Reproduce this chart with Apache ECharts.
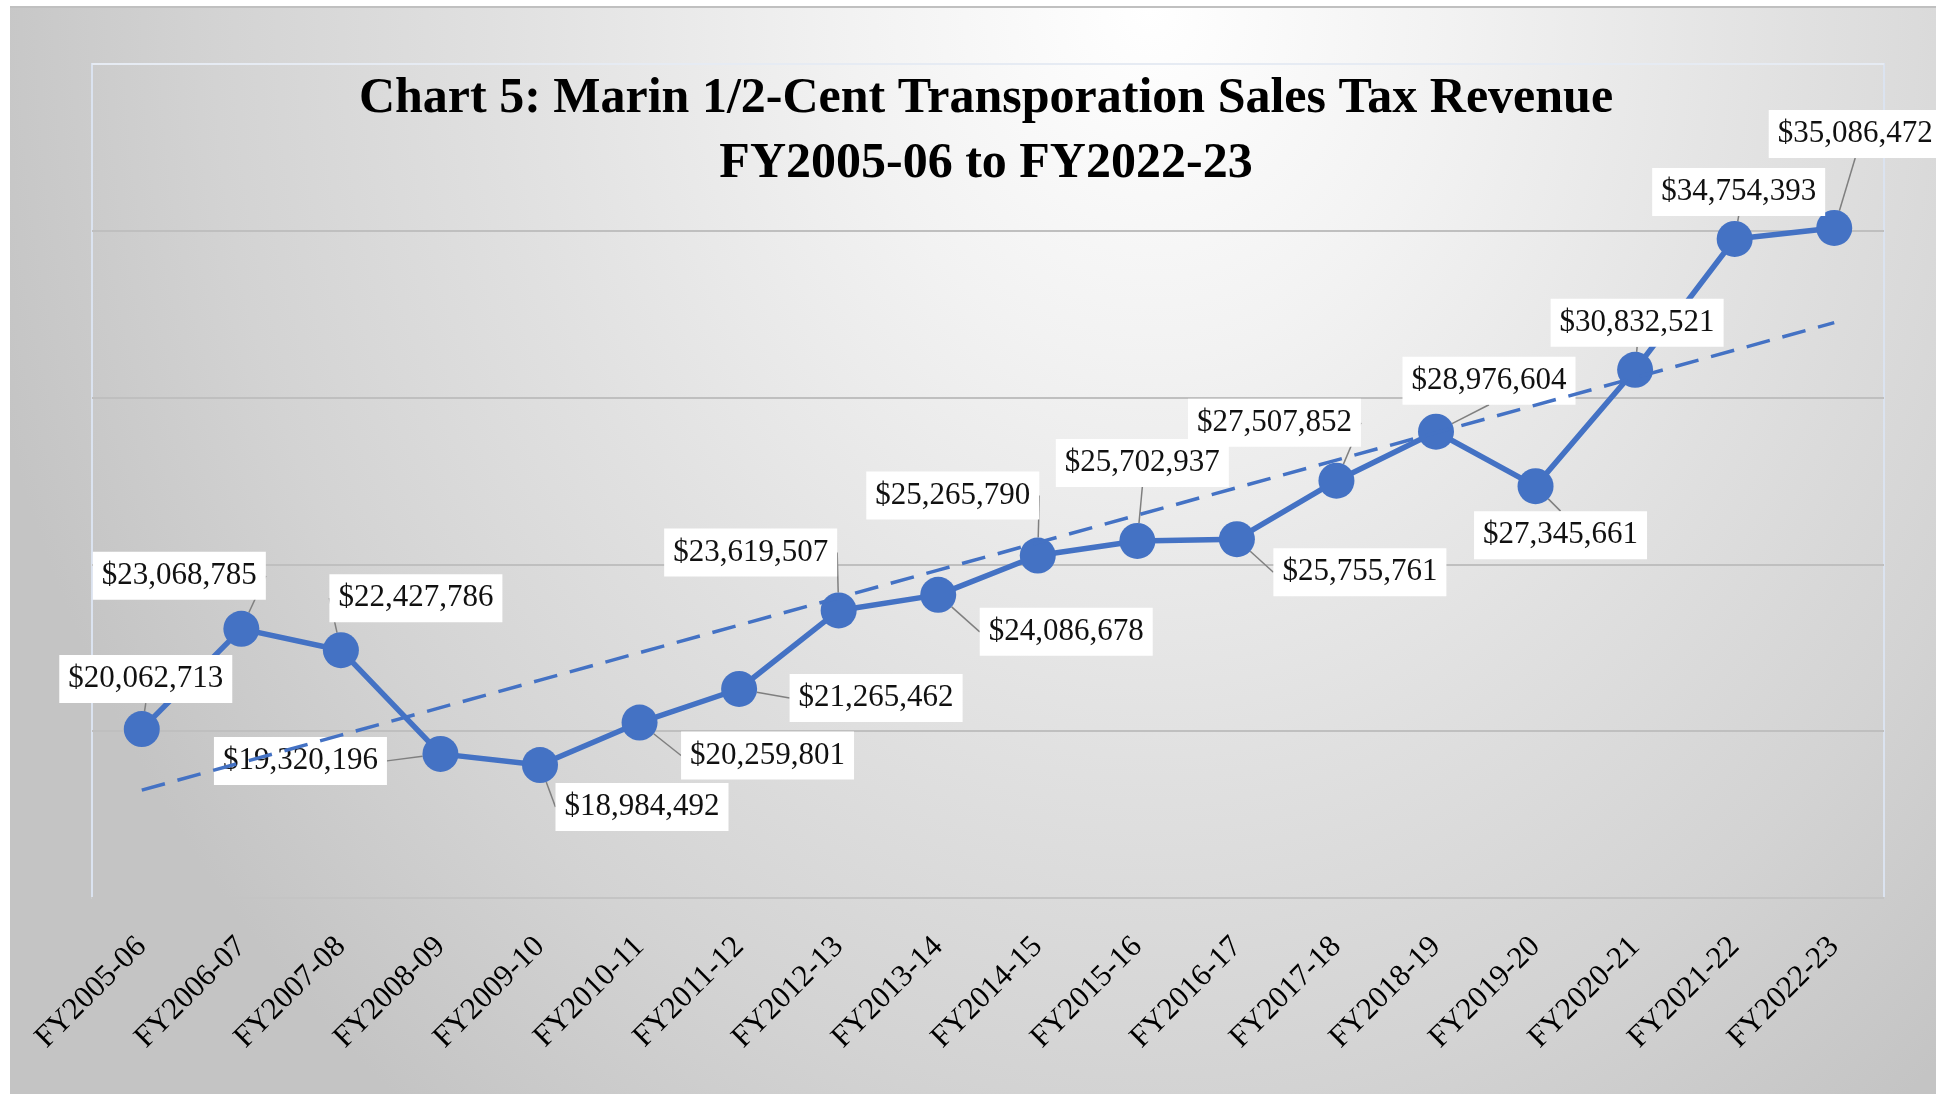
<!DOCTYPE html>
<html><head><meta charset="utf-8">
<script src="https://cdn.jsdelivr.net/npm/echarts@6/dist/echarts.min.js"></script>
<style>
html,body{margin:0;padding:0;background:#fff;}
#bg{position:absolute;left:10px;top:6px;width:1926px;height:1088px;border-top:2px solid #c0c0c0;box-sizing:border-box;
background: radial-gradient(ellipse 1200px 1400px at 1140px 0px, #ffffff 0%, #f2f2f2 25%, #e0e0e0 55%, #d3d3d3 78%, #c4c4c4 100%);}
#chart{position:absolute;left:0;top:0;width:1936px;height:1094px;}
</style></head><body>
<div id="bg"></div><div id="chart"></div>
<script>
// ---- data ----
const categories = ['FY2005-06','FY2006-07','FY2007-08','FY2008-09','FY2009-10','FY2010-11','FY2011-12','FY2012-13','FY2013-14','FY2014-15','FY2015-16','FY2016-17','FY2017-18','FY2018-19','FY2019-20','FY2020-21','FY2021-22','FY2022-23'];
const revenue = [20062713,23068785,22427786,19320196,18984492,20259801,21265462,23619507,24086678,25265790,25702937,25755761,27507852,28976604,27345661,30832521,34754393,35086472];
const titleLines = ['Chart 5: Marin 1/2-Cent Transporation Sales Tax Revenue','FY2005-06 to FY2022-23'];
const yMin = 15000000, yMax = 40000000, yStep = 5000000;

// ---- layout: label offsets (px) from each marker ----
const labelOffsets = [[4,-50],[-62,-53],[75,-52],[-140,7],[102,42],[128,33],[137,9],[-88,-58],[128,37],[-85,-60],[5,-78],[123,33],[-62,-58],[53,-51],[25,49],[2,-47],[4,-47],[21,-94]];

// linear trendline (least squares) from the revenue values
const n = revenue.length;
const xm = (n - 1) / 2;
const ym = revenue.reduce((a, b) => a + b, 0) / n;
let sxy = 0, sxx = 0;
revenue.forEach((v, i) => { sxy += (i - xm) * (v - ym); sxx += (i - xm) * (i - xm); });
const slope = sxy / sxx, intercept = ym - slope * xm;
const trend = categories.map((_, i) => intercept + slope * i);

const chart = echarts.init(document.getElementById('chart'));
chart.setOption({
  animation: false,
  backgroundColor: 'transparent',
  graphic: [{
    type: 'text', x: 986, y: 67, z: 10,
    style: {
      text: titleLines.join('\n'), textAlign: 'center', textVerticalAlign: 'top',
      fontFamily: 'Liberation Serif', fontWeight: 'bold', fontSize: 50, lineHeight: 65, fill: '#000'
    }
  }],
  grid: { left: 92, right: 52, top: 64, bottom: 196, show: true, borderColor: '#dbe3f0', borderWidth: 2, backgroundColor: 'transparent' },
  xAxis: {
    type: 'category', data: categories, boundaryGap: true,
    axisLine: { show: true, lineStyle: { color: '#c4c4c4', width: 2 } },
    axisTick: { show: false },
    axisLabel: { rotate: 45, margin: 44, fontFamily: 'Liberation Serif', fontSize: 31, color: '#000', interval: 0 }
  },
  yAxis: {
    type: 'value', min: yMin, max: yMax, interval: yStep,
    axisLabel: { show: false }, axisLine: { show: false }, axisTick: { show: false },
    splitLine: { show: true, lineStyle: { color: ['#bfbfbf','#bfbfbf','#bfbfbf','#bfbfbf','#bfbfbf','#e6ebf3'], width: 2 } }
  },
  series: [{
    type: 'line', name: 'Revenue', data: revenue, z: 2,
    lineStyle: { color: '#4472C4', width: 5.5 },
    itemStyle: { color: '#4472C4' },
    symbol: 'circle', symbolSize: 36, showSymbol: true,
    emphasis: { disabled: true },
    label: {
      show: true, position: 'inside',
      formatter: p => '$' + p.value.toLocaleString('en-US'),
      fontFamily: 'Liberation Serif', fontSize: 31, lineHeight: 32, color: '#111',
      backgroundColor: '#ffffff', padding: [8, 9]
    },
    labelLine: { show: true, lineStyle: { color: '#7f7f7f', width: 1.5 } },
    labelLayout: p => ({ dx: labelOffsets[p.dataIndex][0], dy: labelOffsets[p.dataIndex][1] })
  }, {
    type: 'line', name: 'Trend', data: trend, z: 3,
    showSymbol: false, symbol: 'none', silent: true,
    lineStyle: { color: '#4472C4', width: 3.5, type: [24, 13] },
    emphasis: { disabled: true }
  }]
});
</script>
</body></html>
